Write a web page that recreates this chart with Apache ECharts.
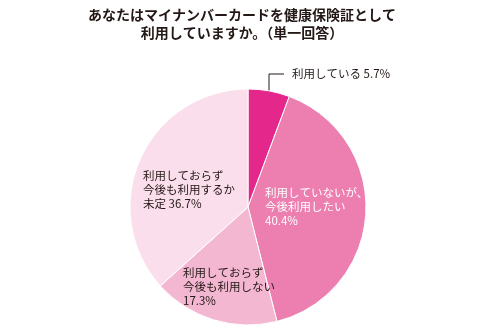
<!DOCTYPE html>
<html>
<head>
<meta charset="utf-8">
<style>
  html, body { margin: 0; padding: 0; background: #ffffff; }
  #chart { width: 483px; height: 326px; }
</style>
<script src="https://cdn.jsdelivr.net/npm/echarts@6/dist/echarts.min.js"></script>
</head>
<body>
<div id="chart"></div>
<script>
// Survey: use of the My Number card as a health insurance card (single answer)
const titleLines = ['あなたはマイナンバーカードを健康保険証として', '利用していますか。（単一回答）'];
const categories = [
  '利用している',
  '利用していないが、\n今後利用したい',
  '利用しておらず\n今後も利用しない',
  '利用しておらず\n今後も利用するか\n未定'
];
const shares = [5.7, 40.4, 17.3, 36.7];
const valueOnOwnLine = [false, true, true, false];
const sliceColors = ['#e4288b', '#ec7fb0', '#f4b7d2', '#fbdeeb'];
const labelColors = ['#231815', '#ffffff', '#231815', '#231815'];

// label anchor (left edge, vertical middle) for each slice
const labelSpots = [
  { x: 292, y: 74 },
  { x: 265, y: 207 },
  { x: 183, y: 287 },
  { x: 143, y: 190 }
];

const chart = echarts.init(document.getElementById('chart'));

const data = categories.map((name, i) => ({
  name: name,
  value: shares[i],
  itemStyle: { color: sliceColors[i] },
  label: {
    position: i === 0 ? 'outside' : 'inside',
    color: labelColors[i]
  },
  labelLine: { show: i === 0 }
}));

chart.setOption({
  animation: false,
  title: {
    text: titleLines.join('\n'),
    left: 237,
    textAlign: 'center',
    top: 1,
    textStyle: {
      fontFamily: 'Noto Sans CJK JP',
      fontSize: 14,
      fontWeight: 'bold',
      lineHeight: 18,
      color: '#231815'
    }
  },
  series: [{
    type: 'pie',
    center: [248, 207],
    radius: 118,
    startAngle: 90,
    clockwise: true,
    silent: true,
    avoidLabelOverlap: false,
    itemStyle: { borderColor: '#ffffff', borderWidth: 1 },
    label: {
      fontFamily: 'Noto Sans CJK JP',
      fontSize: 11.5,
      lineHeight: 14,
      align: 'left',
      formatter: p => p.name + (valueOnOwnLine[p.dataIndex] ? '\n' : ' ') + p.value + '%'
    },
    labelLine: {
      lineStyle: { color: '#231815', width: 1 }
    },
    labelLayout: p => {
      const s = labelSpots[p.dataIndex];
      const out = { x: s.x, y: s.y, align: 'left', verticalAlign: 'middle' };
      if (p.dataIndex === 0) {
        out.labelLinePoints = [[269, 97], [269, 74], [284, 74]];
      }
      return out;
    },
    data: data
  }]
});
</script>
</body>
</html>
